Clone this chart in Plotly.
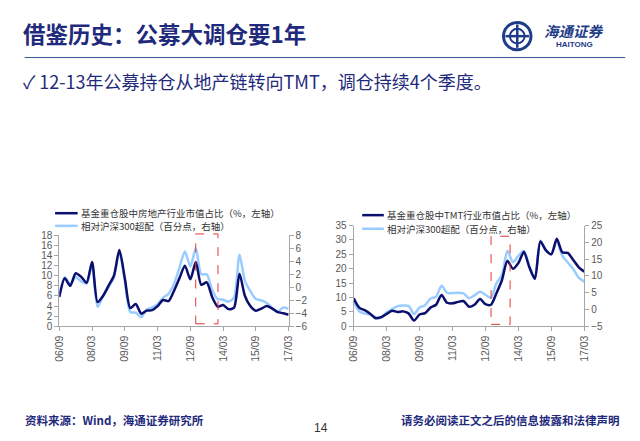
import plotly.graph_objects as go

# ---------------- data ----------------
tick_labels = ["06/09", "08/03", "09/09", "11/03", "12/09", "14/03", "15/09", "17/03"]
quarters = list(range(43))  # 2006Q3 .. 2017Q1

re_share = [5.8, 9.5, 8.0, 10.5, 9.8, 8.6, 12.7, 4.8, 6.0, 8.0, 10.0, 15.1, 9.5, 3.6, 4.4,
            2.5, 3.1, 3.2, 4.0, 5.2, 5.0, 7.0, 9.5, 12.0, 9.3, 12.7, 8.2, 8.7, 5.8, 3.9,
            4.2, 3.4, 3.7, 10.4, 6.0, 4.0, 3.1, 3.5, 4.0, 3.5, 2.8, 2.6, 2.3]
re_over = [-1.1, 1.5, 0.5, 1.6, 0.9, 0.6, 3.4, -3.0, -1.4, 0.0, 1.5, 5.4, 1.0, -3.8, -3.9,
           -4.6, -3.4, -3.1, -2.6, -1.6, -1.0, 0.5, 3.0, 5.5, 3.2, 6.0, 2.0, 2.0, -0.4, -1.8,
           -1.9, -2.2, -1.6, 5.0, 1.0, -0.6, -1.8, -2.0, -2.4, -3.2, -3.8, -3.1, -3.3]

tmt_share = [9.7, 6.5, 5.6, 4.4, 2.8, 3.2, 4.3, 5.4, 5.0, 5.2, 4.5, 2.0, 4.1, 4.6, 6.5,
             7.5, 10.9, 8.2, 8.0, 8.5, 8.8, 6.8, 7.5, 9.5, 7.7, 7.5, 11.5, 16.0, 22.8, 20.0,
             22.0, 25.8, 20.5, 16.5, 29.5, 26.5, 25.0, 30.4, 25.7, 25.5, 23.0, 20.5, 19.0]
tmt_over = [2.5, -0.5, -1.2, -1.5, -2.3, -2.5, -0.8, 0.1, 1.0, 1.2, 1.1, -1.3, 0.6, 1.3, 3.3,
            3.8, 7.1, 5.0, 4.9, 5.0, 4.8, 3.4, 4.2, 5.3, 4.4, 3.5, 7.8, 10.3, 17.5, 14.1,
            16.0, 17.5, 13.0, 9.3, 20.5, 17.5, 16.5, 20.4, 16.0, 14.0, 12.0, 9.5, 8.3]

name_re_share = "基金重仓股中房地产行业市值占比（%，左轴）"
name_tmt_share = "基金重仓股中TMT行业市值占比（%，左轴）"
name_over = "相对沪深300超配（百分点，右轴）"

NAVY = "#0B0F6E"
LIGHT = "#99CCFF"
TXT = "#1F2A7C"
AX = "#A6A6A6"
TICKC = "#595959"
CJK = "Noto Sans CJK SC"

W, H = 640, 441
def px(x):
    return x / W
def py(y):
    return 1 - y / H

fig = go.Figure()

def line(color):
    return dict(color=color, width=2.5, shape="spline", smoothing=0.7)

fig.add_trace(go.Scatter(x=quarters, y=re_over, xaxis="x", yaxis="y", mode="lines",
                         line=line(LIGHT), name=name_over, showlegend=False))
fig.add_trace(go.Scatter(x=quarters, y=re_share, xaxis="x", yaxis="y2", mode="lines",
                         line=line(NAVY), name=name_re_share, showlegend=False))
fig.add_trace(go.Scatter(x=quarters, y=tmt_over, xaxis="x2", yaxis="y3", mode="lines",
                         line=line(LIGHT), name=name_over, showlegend=False))
fig.add_trace(go.Scatter(x=quarters, y=tmt_share, xaxis="x2", yaxis="y4", mode="lines",
                         line=line(NAVY), name=name_tmt_share, showlegend=False))

tickvals = [0, 6, 12, 18, 24, 30, 36, 42]
xfont = dict(family="Liberation Sans, Arial", size=10.5, color=TICKC)
yfont = dict(family="Liberation Sans, Arial", size=10, color=TICKC)
common_x = dict(range=[0, 42], tickvals=tickvals, ticktext=tick_labels, tickangle=-90,
                ticks="outside", ticklen=4, tickcolor=AX, showline=True, linecolor=AX,
                showgrid=False, zeroline=False, tickfont=xfont, fixedrange=True)
common_y = dict(ticks="outside", ticklen=4, tickcolor=AX, showline=True, linecolor=AX,
                showgrid=False, zeroline=False, tickfont=yfont, fixedrange=True)

ybot = py(329.3)
fig.update_layout(
    width=W, height=H, margin=dict(l=0, r=0, t=0, b=0),
    paper_bgcolor="white", plot_bgcolor="white", showlegend=False,
    xaxis=dict(domain=[px(53.3), px(287)], anchor="y", **common_x),
    yaxis=dict(domain=[ybot, py(235.7)], range=[-6, 8], dtick=2, side="right", anchor="x", **common_y),
    yaxis2=dict(range=[0, 18], dtick=2, side="left", overlaying="y", anchor="x", **common_y),
    xaxis2=dict(domain=[px(353.3), px(588.3)], anchor="y3", **common_x),
    yaxis3=dict(domain=[ybot, py(225.7)], range=[-5, 25], dtick=5, side="right", anchor="x2", **common_y),
    yaxis4=dict(range=[0, 35], dtick=5, side="left", overlaying="y3", anchor="x2", **common_y),
)

shapes = []
# red dashed boxes marking the rotation window
for x0, x1, y0, y1 in [(192.3, 215, 234.3, 326.7), (493.3, 512.7, 236.7, 327.3)]:
    shapes.append(dict(type="rect", xref="paper", yref="paper", x0=px(x0), x1=px(x1), y0=py(y1), y1=py(y0),
                       line=dict(color="#E53935", width=1, dash="dash"), fillcolor="rgba(0,0,0,0)"))
# header rule
shapes.append(dict(type="line", xref="paper", yref="paper", x0=px(18), x1=px(630), y0=py(53), y1=py(53),
                   line=dict(color="#2E5597", width=1)))
# logo
shapes.append(dict(type="circle", xref="paper", yref="paper", x0=px(506), x1=px(534), y0=py(45), y1=py(17),
                   line=dict(color="#1F3C88", width=3), fillcolor="white"))
shapes.append(dict(type="circle", xref="paper", yref="paper", x0=px(512.5), x1=px(527.5), y0=py(38.5), y1=py(23.5),
                   line=dict(color="#1F3C88", width=2), fillcolor="white"))
shapes.append(dict(type="line", xref="paper", yref="paper", x0=px(520), x1=px(520), y0=py(43), y1=py(19),
                   line=dict(color="#1F3C88", width=2.5)))
shapes.append(dict(type="line", xref="paper", yref="paper", x0=px(508), x1=px(532), y0=py(31), y1=py(31),
                   line=dict(color="#1F3C88", width=2.5)))
# manual legends
leg = [(49, 72, 213, NAVY), (49, 72, 226, LIGHT), (362, 384, 215, NAVY), (362, 384, 229, LIGHT)]
for x0, x1, y, c in leg:
    shapes.append(dict(type="line", xref="paper", yref="paper", x0=px(x0), x1=px(x1), y0=py(y), y1=py(y),
                       line=dict(color=c, width=2.5)))
fig.update_layout(shapes=shapes)

ann = []
def text(x, y, s, size, color=TXT, xanchor="left", family=CJK, bold=False):
    if bold:
        s = "<b>" + s + "</b>"
    ann.append(dict(x=px(x), y=py(y), xref="paper", yref="paper", text=s, showarrow=False,
                    xanchor=xanchor, yanchor="middle", font=dict(family=family, size=size, color=color)))

text(14, 28, "借鉴历史：公募大调仓要1年", 22.5, bold=True)
text(14, 77, "✓ 12-13年公募持仓从地产链转向TMT，调仓持续4个季度。", 18)
text(545, 25, "<i>海通证券</i>", 14.5, color="#1F3C88", bold=True)
text(578, 40, "HAITONG", 8, color="#1F3C88", xanchor="center", family="Liberation Sans, Arial", bold=True)
text(73, 213, name_re_share, 9.5, color="#333333")
text(73, 226, name_over, 9.5, color="#333333")
text(385, 215, name_tmt_share, 9.5, color="#333333")
text(385, 229, name_over, 9.5, color="#333333")
text(16, 426, "资料来源：Wind，海通证券研究所", 11.5, bold=True)
text(320, 434, "14", 12, color="#333333", xanchor="center", family="Liberation Sans, Arial")
text(627, 426, "请务必阅读正文之后的信息披露和法律声明", 11.5, xanchor="right", bold=True)
fig.update_layout(annotations=ann)

fig.write_html("out.html", config={"displayModeBar": False},
               post_script="document.body.style.margin='0';document.body.style.overflow='hidden';")
